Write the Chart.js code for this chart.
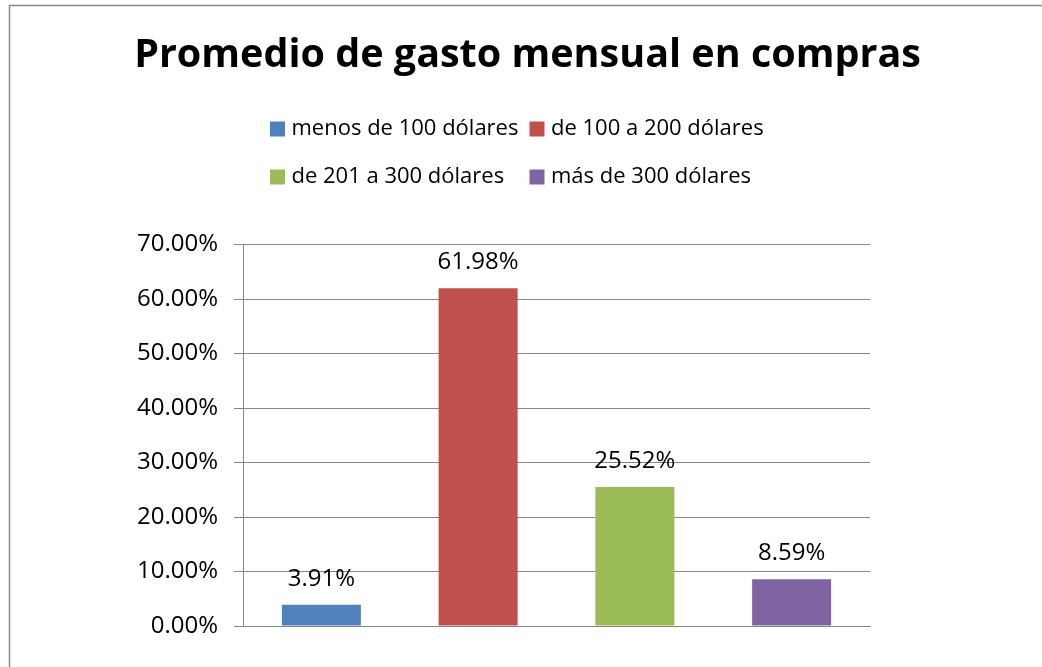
<!DOCTYPE html>
<html>
<head>
<meta charset="utf-8">
<script src="https://cdn.jsdelivr.net/npm/chart.js@4.4.1/dist/chart.umd.min.js"></script>
<style>
  html, body { margin: 0; padding: 0; background: #fff; }
  #wrap { width: 1042px; height: 667px; position: relative; }
</style>
</head>
<body>
<div id="wrap"><canvas id="c" width="1042" height="667"></canvas></div>
<script>
const chartTitle = 'Promedio de gasto mensual en compras';
const categories = ['menos de 100 dólares', 'de 100 a 200 dólares', 'de 201 a 300 dólares', 'más de 300 dólares'];
const values = [3.91, 61.98, 25.52, 8.59];
const colors = ['#4F81BD', '#C0504D', '#9BBB59', '#8064A2'];
const yMin = 0, yMax = 70, yStep = 10;

const FONT = '"Open Sans", Lato, sans-serif';
const AXIS = '#868686';

const datasets = categories.map((name, i) => ({
  label: name,
  data: values.map((v, j) => (j === i ? v : null)),
  backgroundColor: colors[i],
  borderWidth: 0,
  skipNull: true,
  categoryPercentage: 1,
  barPercentage: 0.504
}));

const decor = {
  id: 'decor',
  beforeDraw(chart) {
    const ctx = chart.ctx;
    ctx.save();
    ctx.fillStyle = '#fff';
    ctx.fillRect(0, 0, chart.width, chart.height);
    ctx.strokeStyle = '#8c8c8c';
    ctx.lineWidth = 1.5;
    ctx.strokeRect(9.5, 5.5, 1200, 1000);
    // title
    ctx.fillStyle = '#000';
    ctx.font = 'bold 39.5px ' + FONT;
    ctx.textAlign = 'center';
    ctx.textBaseline = 'alphabetic';
    ctx.fillText(chartTitle, 527.5, 67);
    // legend (2 columns x 2 rows)
    const colX = [270, 529.5];
    const rowY = [129, 177];
    ctx.font = '22px ' + FONT;
    ctx.textAlign = 'left';
    ctx.textBaseline = 'middle';
    categories.forEach((name, i) => {
      const x = colX[i % 2], y = rowY[Math.floor(i / 2)];
      ctx.fillStyle = colors[i];
      ctx.fillRect(x, y - 7.5, 15, 15);
      ctx.fillStyle = '#000';
      ctx.fillText(name, x + 21.5, y);
    });
    ctx.restore();
  },
  afterDatasetsDraw(chart) {
    const ctx = chart.ctx;
    ctx.save();
    ctx.fillStyle = '#000';
    ctx.font = '24px ' + FONT;
    ctx.textAlign = 'center';
    ctx.textBaseline = 'alphabetic';
    chart.data.datasets.forEach((ds, di) => {
      const meta = chart.getDatasetMeta(di);
      meta.data.forEach((el, j) => {
        const v = ds.data[j];
        if (v === null || v === undefined) return;
        ctx.fillText(v.toFixed(2) + '%', el.x, el.y - 19);
      });
    });
    ctx.restore();
  }
};

function build() {
  new Chart(document.getElementById('c'), {
    type: 'bar',
    data: { labels: categories, datasets },
    options: {
      responsive: false,
      animation: false,
      devicePixelRatio: 1,
      layout: { padding: { left: 0, right: 172, top: 244.5, bottom: 41 } },
      plugins: { legend: { display: false }, title: { display: false }, tooltip: { enabled: false } },
      scales: {
        x: {
          grid: { display: false },
          border: { display: true, color: AXIS, width: 1 },
          ticks: { display: false },
          afterFit(s) { s.height = 0; }
        },
        y: {
          min: yMin, max: yMax,
          ticks: {
            stepSize: yStep,
            color: '#000',
            font: { family: FONT, size: 24 },
            padding: 16,
            callback: v => v.toFixed(2) + '%'
          },
          grid: { color: AXIS, lineWidth: 1, tickLength: 9, drawTicks: true },
          border: { display: true, color: AXIS, width: 1 },
          afterFit(s) { s.width = 243; }
        }
      }
    },
    plugins: [decor]
  });
}

if (document.fonts && document.fonts.load) {
  Promise.all([
    document.fonts.load('bold 39.5px "Open Sans"'),
    document.fonts.load('22px "Open Sans"')
  ]).then(build, build);
} else { build(); }
</script>
</body>
</html>
